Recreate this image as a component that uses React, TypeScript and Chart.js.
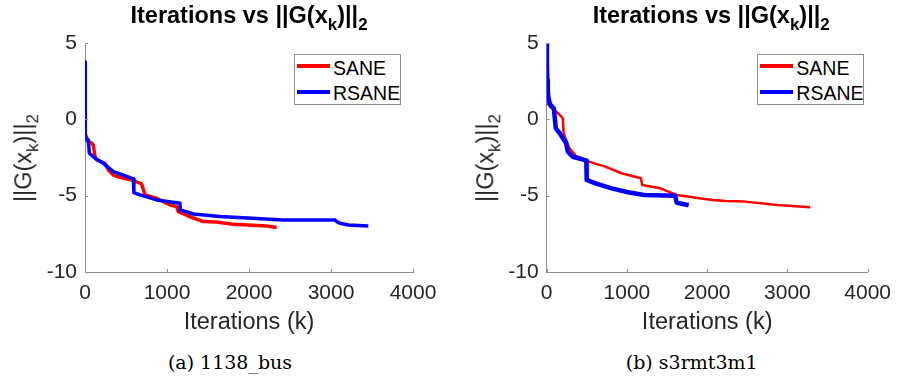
import React, { useEffect, useRef } from "react";
import { Chart, registerables } from "chart.js";

Chart.register(...registerables);

// ---- shared axes ----
const X_TICKS = [0, 1000, 2000, 3000, 4000];
const X_TICK_LABELS = ["0", "1000", "2000", "3000", "4000"];
const Y_TICKS = [-10, -5, 0, 5];
const Y_TICK_LABELS = ["-10", "-5", "0", "5"];
const SERIES_NAMES = ["SANE", "RSANE"];
const X_LABEL = "Iterations (k)";

// ---- panel (a) 1138_bus ----
const busSaneIter = [0, 12, 81, 101, 122, 142, 244, 285, 346, 427, 569, 691, 732, 874, 1037, 1118, 1138, 1280, 1443, 1606, 1809, 2215, 2337];
const busSaneNorm = [-1.05, -1.35, -1.57, -1.68, -2.44, -2.66, -2.88, -3.32, -3.65, -3.8, -3.97, -4.23, -4.95, -5.17, -5.61, -5.72, -6.05, -6.38, -6.7, -6.72, -6.88, -6.98, -7.09];
const busRsaneIter = [0, 2, 5, 40, 53, 122, 224, 346, 468, 590, 596, 671, 874, 1118, 1158, 1162, 1321, 1646, 2256, 2420, 3049, 3070, 3110, 3210, 3455];
const busRsaneNorm = [3.78, 0.5, -1.13, -1.35, -2.22, -2.55, -2.88, -3.43, -3.65, -3.9, -4.8, -4.95, -5.28, -5.46, -5.5, -5.94, -6.2, -6.37, -6.55, -6.59, -6.59, -6.7, -6.81, -6.92, -6.98];

// ---- panel (b) s3rmt3m1 ----
const s3SaneIter = [0, 40, 142, 202, 210, 243, 284, 365, 527, 730, 932, 1175, 1190, 1418, 1621, 1905, 2067, 2229, 2472, 2877, 3283];
const s3SaneNorm = [1.15, 0.83, 0.4, 0.07, -0.91, -1.35, -1.9, -2.4, -2.77, -3.1, -3.53, -3.86, -4.3, -4.52, -4.95, -5.17, -5.28, -5.35, -5.39, -5.61, -5.76];
const s3RsaneIter = [0, 3, 8, 14, 20, 35, 49, 89, 113, 162, 202, 243, 263, 324, 466, 494, 498, 608, 810, 1013, 1216, 1600, 1621, 1770];
const s3RsaneNorm = [5, 3.7, 2.58, 1.9, 1.48, 1.1, 0.94, 0.72, -0.59, -0.91, -1.24, -1.57, -2.12, -2.45, -2.66, -2.7, -3.97, -4.19, -4.52, -4.78, -4.95, -5.0, -5.46, -5.63];

const RED = "#ff0000";
const BLUE = "#0000ff";
const AXIS = "#8c8c8c";
const TEXT = "#262626";
const SANS = "'Liberation Sans', Arial, Helvetica, sans-serif";

const CANVAS_W = 450;
const CANVAS_H = 340;
const PLOT_TOP = 43;
const PLOT_BOTTOM = 272;

const toPoints = (xs: number[], ys: number[]) => xs.map((x, i) => ({ x, y: ys[i] }));

const inwardTicks = {
  id: "inwardTicks",
  afterDraw(chart: any) {
    const { ctx, chartArea: a, scales } = chart;
    const x = scales.x;
    const y = scales.y;
    ctx.save();
    ctx.strokeStyle = AXIS;
    ctx.lineWidth = 1;
    ctx.beginPath();
    x.ticks.forEach((t: any) => {
      const p = Math.round(x.getPixelForValue(t.value)) + 0.5;
      ctx.moveTo(p, a.bottom);
      ctx.lineTo(p, a.bottom - 3);
    });
    y.ticks.forEach((t: any) => {
      const p = Math.round(y.getPixelForValue(t.value)) + 0.5;
      ctx.moveTo(a.left, p);
      ctx.lineTo(a.left + 3, p);
    });
    ctx.stroke();
    ctx.restore();
  },
};

type PanelProps = {
  offset: number;
  plotLeft: number;
  plotRight: number;
  saneIter: number[];
  saneNorm: number[];
  rsaneIter: number[];
  rsaneNorm: number[];
  redWidth: number;
  blueWidth: number;
  legendLeft: number;
  legendWidth: number;
  caption: string;
  captionCenter: number;
  yLabelX: number;
};

function Panel(p: PanelProps) {
  const ref = useRef<HTMLCanvasElement | null>(null);

  useEffect(() => {
    if (!ref.current) return;
    const lineStyle = { pointRadius: 0, tension: 0, fill: false, borderJoinStyle: "round", borderCapStyle: "butt" };
    const chart = new Chart(ref.current, {
      type: "line",
      data: {
        datasets: [
          {
            label: SERIES_NAMES[1],
            data: toPoints(p.rsaneIter, p.rsaneNorm),
            borderColor: BLUE,
            backgroundColor: BLUE,
            borderWidth: p.blueWidth,
            ...lineStyle,
          },
          {
            label: SERIES_NAMES[0],
            data: toPoints(p.saneIter, p.saneNorm),
            borderColor: RED,
            backgroundColor: RED,
            borderWidth: p.redWidth,
            ...lineStyle,
          },
        ],
      },
      options: {
        responsive: false,
        animation: false,
        devicePixelRatio: 1,
        layout: {
          padding: { left: 0, right: CANVAS_W - p.plotRight, top: PLOT_TOP, bottom: 0 },
        },
        plugins: { legend: { display: false }, tooltip: { enabled: false }, title: { display: false } },
        scales: {
          x: {
            type: "linear",
            min: 0,
            max: 4000,
            afterBuildTicks: (s: any) => {
              s.ticks = X_TICKS.map((v) => ({ value: v }));
            },
            afterFit: (s: any) => {
              s.height = CANVAS_H - PLOT_BOTTOM;
            },
            grid: { drawOnChartArea: false, drawTicks: false },
            border: { display: true, color: AXIS, width: 1 },
            ticks: {
              color: TEXT,
              font: { family: SANS, size: 21 },
              padding: 9,
              maxRotation: 0,
              callback: (v: any) => X_TICK_LABELS[X_TICKS.indexOf(Number(v))] ?? String(v),
            },
            title: { display: true, text: X_LABEL, color: TEXT, font: { family: SANS, size: 23.5 }, padding: { top: 4, bottom: 3 } },
          },
          y: {
            type: "linear",
            min: -10,
            max: 5,
            afterBuildTicks: (s: any) => {
              s.ticks = Y_TICKS.map((v) => ({ value: v }));
            },
            afterFit: (s: any) => {
              s.width = p.plotLeft;
            },
            grid: { drawOnChartArea: false, drawTicks: false },
            border: { display: true, color: AXIS, width: 1 },
            ticks: {
              color: TEXT,
              font: { family: SANS, size: 21 },
              padding: 8,
              callback: (v: any) => Y_TICK_LABELS[Y_TICKS.indexOf(Number(v))] ?? String(v),
            },
          },
        },
      },
      plugins: [inwardTicks],
    } as any);
    return () => chart.destroy();
  }, []);

  const center = (p.plotLeft + p.plotRight) / 2;
  const sub: React.CSSProperties = { position: "relative", top: "0.4em", fontSize: "0.72em", verticalAlign: "baseline" };
  const lineStart = p.legendLeft + 3;
  const lineW = 33;
  const textLeft = lineStart + lineW + 3;

  return (
    <div style={{ position: "absolute", left: p.offset, top: 0, width: CANVAS_W, height: 376 }}>
      <canvas ref={ref} width={CANVAS_W} height={CANVAS_H} style={{ position: "absolute", left: 0, top: 0, width: CANVAS_W, height: CANVAS_H }} />
      <div
        style={{
          position: "absolute",
          left: center,
          top: 4,
          transform: "translateX(-50%)",
          whiteSpace: "nowrap",
          fontFamily: SANS,
          fontWeight: "bold",
          fontSize: 23.5,
          lineHeight: 1,
          color: "#000",
        }}
      >
        Iterations vs ||G(x<span style={sub}>k</span>)||<span style={sub}>2</span>
      </div>
      <div
        style={{
          position: "absolute",
          left: p.yLabelX,
          top: (PLOT_TOP + PLOT_BOTTOM) / 2,
          transform: "translate(-50%, -50%) rotate(-90deg)",
          whiteSpace: "nowrap",
          fontFamily: SANS,
          fontSize: 23.5,
          lineHeight: 1,
          color: TEXT,
        }}
      >
        ||G(x<span style={sub}>k</span>)||<span style={sub}>2</span>
      </div>
      <div
        style={{
          position: "absolute",
          left: p.legendLeft,
          top: 54,
          width: p.legendWidth,
          height: 51,
          boxSizing: "border-box",
          border: `1px solid ${AXIS}`,
          background: "#fff",
        }}
      />
      <div style={{ position: "absolute", left: lineStart, top: 63.5, width: lineW, height: 4, background: RED }} />
      <div style={{ position: "absolute", left: lineStart, top: 90, width: lineW, height: 4, background: BLUE }} />
      <span style={{ position: "absolute", left: textLeft, top: 58.5, fontFamily: SANS, fontSize: 19.5, lineHeight: 1, color: "#000", whiteSpace: "nowrap" }}>
        {SERIES_NAMES[0]}
      </span>
      <span style={{ position: "absolute", left: textLeft, top: 84, fontFamily: SANS, fontSize: 19.5, lineHeight: 1, color: "#000", whiteSpace: "nowrap" }}>
        {SERIES_NAMES[1]}
      </span>
      <div
        style={{
          position: "absolute",
          left: p.captionCenter,
          top: 353,
          transform: "translateX(-50%)",
          whiteSpace: "nowrap",
          fontFamily: "'DejaVu Serif', serif",
          fontSize: 19,
          lineHeight: 1,
          color: "#000",
        }}
      >
        {p.caption}
      </div>
    </div>
  );
}

export default function App() {
  return (
    <div style={{ position: "absolute", left: 0, top: 0, width: 900, height: 376, background: "#fff", overflow: "hidden" }}>
      <Panel
        offset={0}
        plotLeft={85}
        plotRight={413}
        saneIter={busSaneIter}
        saneNorm={busSaneNorm}
        rsaneIter={busRsaneIter}
        rsaneNorm={busRsaneNorm}
        redWidth={3.5}
        blueWidth={3.5}
        legendLeft={294}
        legendWidth={107}
        caption="(a) 1138_bus"
        captionCenter={230}
        yLabelX={24}
      />
      <Panel
        offset={450}
        plotLeft={96.7}
        plotRight={425.7}
        saneIter={s3SaneIter}
        saneNorm={s3SaneNorm}
        rsaneIter={s3RsaneIter}
        rsaneNorm={s3RsaneNorm}
        redWidth={2.5}
        blueWidth={4.5}
        legendLeft={307.3}
        legendWidth={107}
        caption="(b) s3rmt3m1"
        captionCenter={241.7}
        yLabelX={36}
      />
    </div>
  );
}
